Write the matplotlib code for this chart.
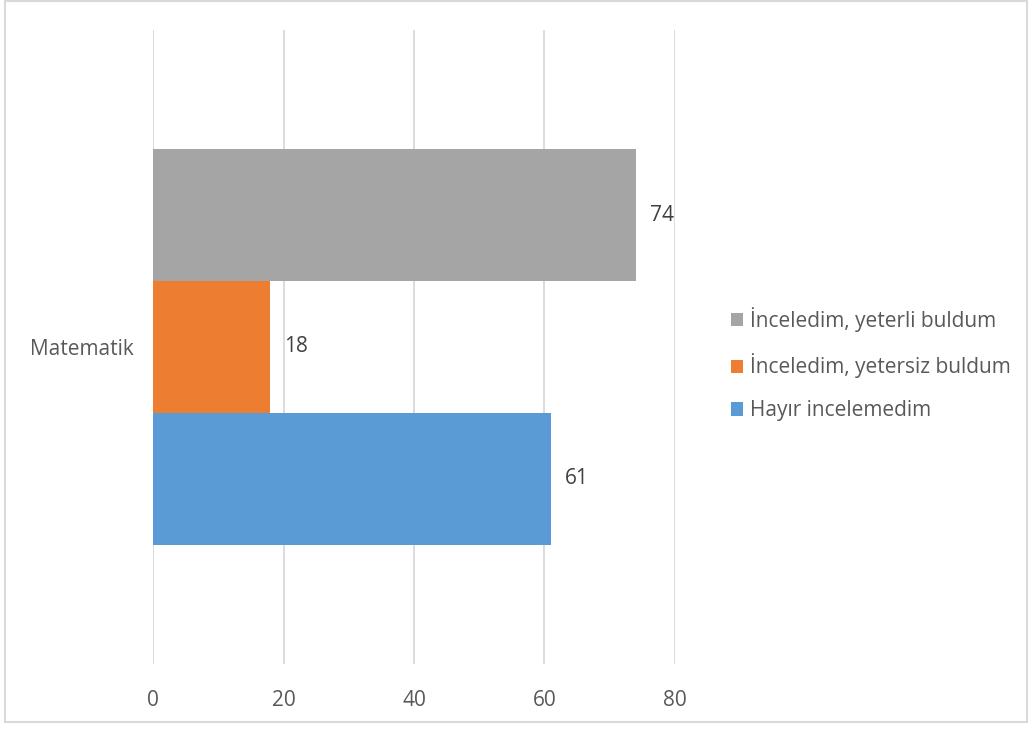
import matplotlib.pyplot as plt
import numpy as np
from matplotlib.patches import Rectangle, Patch

plt.rcParams['font.family'] = ['Open Sans', 'DejaVu Sans']

category = 'Matematik'
series = ['İnceledim, yeterli buldum', 'İnceledim, yetersiz buldum', 'Hayır incelemedim']
values = [74, 18, 61]
colors = ['#a5a5a5', '#ed7d31', '#5b9bd5']
xticks = [0, 20, 40, 60, 80]

text_color = '#595959'

fig = plt.figure(figsize=(10.3, 7.29), dpi=100)
ax = fig.add_axes([153 / 1030, 1 - 664 / 729, 522 / 1030, 634 / 729])

# outer chart border
fig.patches.append(Rectangle((5 / 1030, 1 - 722 / 729), 1022 / 1030, 721 / 729,
                             transform=fig.transFigure, fill=False,
                             edgecolor='#d9d9d9', linewidth=1.5))

bar_h = 0.2077
offsets = [bar_h, 0, -bar_h]
for name, v, c, off in zip(series, values, colors, offsets):
    ax.barh(off, v, height=bar_h, color=c, label=name, zorder=3)
    ax.text(v + 2.1, off, str(v), va='center', ha='left', fontsize=15, color='#404040')

ax.set_xlim(0, 80)
ax.set_ylim(-0.5, 0.5)
ax.set_xticks(xticks)
ax.set_xticklabels([str(t) for t in xticks], fontsize=15, color=text_color)
ax.set_yticks([0])
ax.set_yticklabels([category], fontsize=15, color=text_color)
ax.tick_params(length=0)
ax.tick_params(axis='x', pad=19)
ax.tick_params(axis='y', pad=14)
ax.grid(axis='x', color='#d9d9d9', linewidth=1.3, zorder=0)
for s in ax.spines.values():
    s.set_visible(False)

handles = [Patch(facecolor=c, label=n) for n, c in zip(series, colors)]
leg = fig.legend(handles=handles, loc='center left', bbox_to_anchor=(712 / 1030, 1 - 364 / 729),
                 frameon=False, fontsize=15, handlelength=0.6, handleheight=0.6,
                 handletextpad=0.3, labelspacing=1.05, labelcolor=text_color)

fig.savefig('out.png', dpi=100)
